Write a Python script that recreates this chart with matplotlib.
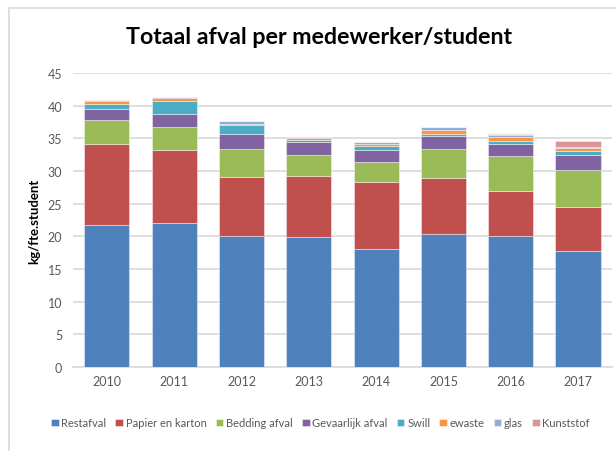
import numpy as np
import matplotlib.pyplot as plt
from matplotlib.patches import Rectangle

# data (kg per fte student)
years = ['2010', '2011', '2012', '2013', '2014', '2015', '2016', '2017']
restafval = [21.8, 22.0, 20.1, 19.9, 18.0, 20.4, 20.1, 17.7]
papier = [12.35, 11.3, 9.0, 9.35, 10.3, 8.5, 6.8, 6.85]
bedding = [3.7, 3.5, 4.3, 3.2, 3.15, 4.45, 5.35, 5.6]
gevaarlijk = [1.7, 1.9, 2.3, 2.05, 1.7, 2.05, 1.9, 2.3]
swill = [0.7, 2.1, 1.4, 0.2, 0.67, 0.25, 0.4, 0.55]
ewaste = [0.45, 0.35, 0.05, 0.35, 0.4, 0.6, 0.65, 0.5]
glas = [0.15, 0.15, 0.55, 0.15, 0.2, 0.45, 0.3, 0.25]
kunststof = [0.0, 0.0, 0.0, 0.0, 0.0, 0.0, 0.15, 0.85]

series = [restafval, papier, bedding, gevaarlijk, swill, ewaste, glas, kunststof]
names = ['Restafval', 'Papier en karton', 'Bedding afval', 'Gevaarlijk afval',
         'Swill', 'ewaste', 'glas', 'Kunststof']
colors = ['#4F81BD', '#C0504D', '#9BBB59', '#8064A2',
          '#4BACC6', '#F79646', '#95ADD4', '#D99694']

plt.rcParams['font.family'] = ['Lato', 'DejaVu Sans']

fig = plt.figure(figsize=(6.16, 4.52), dpi=100)
# chart area border (partly cropped in the original)
fig.patches.append(Rectangle((9 / 616, -0.1), 1.2, (452 - 9) / 452 + 0.1,
                             transform=fig.transFigure, fill=False,
                             edgecolor='#D9D9D9', linewidth=1.2))

ax = fig.add_axes([0.119, 0.186, 0.874, 0.65])
x = np.arange(len(years))
bottom = np.zeros(len(years))
for vals, name, c in zip(series, names, colors):
    ax.bar(x, vals, 0.67, bottom=bottom, color=c, label=name,
           edgecolor=(1, 1, 1, 0.5), linewidth=0.6, zorder=3)
    bottom += np.array(vals)

ax.set_ylim(0, 45)
ax.set_xlim(-0.5, len(years) - 0.5)
ax.set_yticks(range(0, 46, 5))
ax.set_xticks(x)
ax.set_xticklabels(years)
ax.yaxis.grid(True, color='#D9D9D9', linewidth=1.2, zorder=0)
for s in ['top', 'right', 'left']:
    ax.spines[s].set_visible(False)
ax.spines['bottom'].set_color('#D9D9D9')
ax.spines['bottom'].set_linewidth(1.2)
ax.tick_params(axis='both', length=0, labelsize=9, labelcolor='#595959')
ax.tick_params(axis='y', pad=8)
ax.tick_params(axis='x', pad=6)

ax.set_ylabel('kg/fte.student', fontsize=9.5, fontweight='bold', labelpad=5)
fig.text(0.518, 0.918, 'Totaal afval per medewerker/student', ha='center',
         va='center', fontsize=16.7, fontweight='bold')

fig.legend(loc='center', bbox_to_anchor=(0.52, 0.062), ncol=8, frameon=False,
           fontsize=8, handlelength=0.7, handleheight=0.7, handletextpad=0.25,
           columnspacing=0.8, labelcolor='#595959')

plt.savefig('out.png', dpi=100)
